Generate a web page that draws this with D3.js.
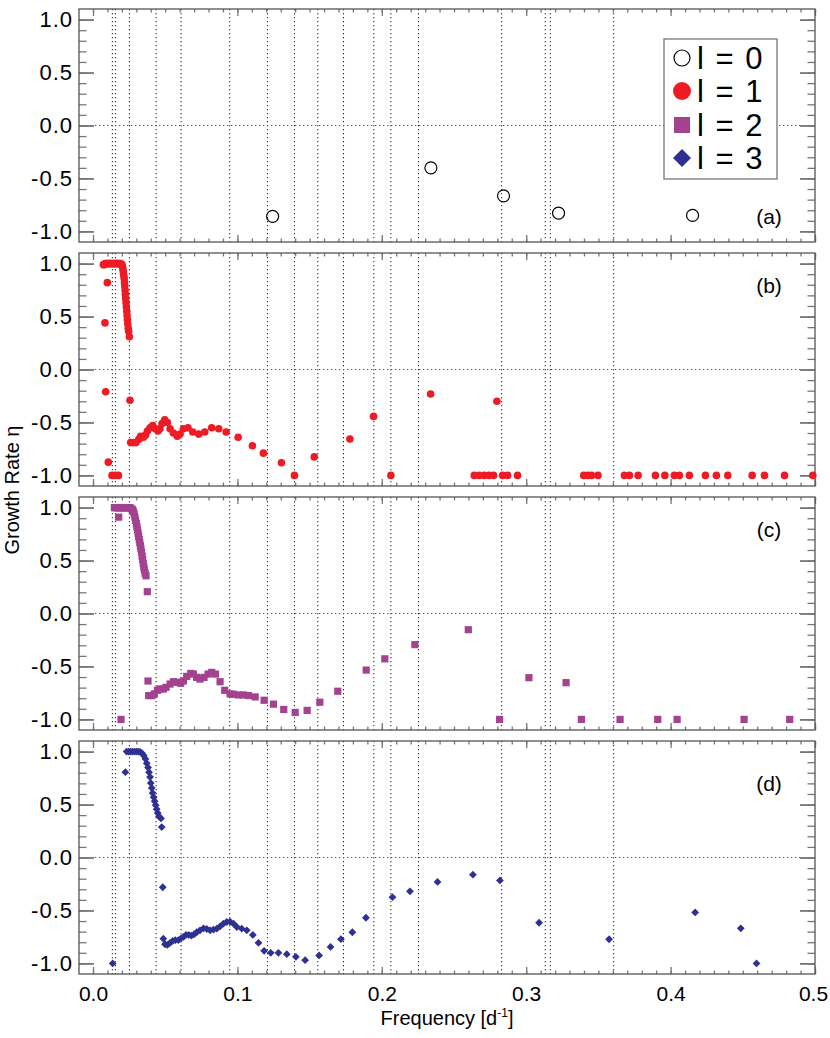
<!DOCTYPE html>
<html><head><meta charset="utf-8">
<script src="https://cdn.jsdelivr.net/npm/d3@7"></script>
<style>body{margin:0;background:#fff} svg{display:block} text{font-family:"Liberation Sans",Arial,Helvetica,sans-serif;}</style>
</head><body>
<svg id="c" width="830" height="1038"></svg>
<script>
// ---------- data ----------
const xTicks = [0, 0.1, 0.2, 0.3, 0.4, 0.5];
const xTickLabels = ["0.0", "0.1", "0.2", "0.3", "0.4", "0.5"];
const yTicks = [-1, -0.5, 0, 0.5, 1];
const yTickLabels = ["-1.0", "-0.5", "0.0", "0.5", "1.0"];
const panelLabels = ["(a)", "(b)", "(c)", "(d)"];
const legendLabels = ["l = 0", "l = 1", "l = 2", "l = 3"];
const xTitle = "Frequency [d";
const yTitle = "Growth Rate η";

// observed frequencies (vertical dotted lines)
const gridFreqs = [0.0134, 0.0155, 0.0252, 0.0437, 0.0610, 0.0947, 0.1208, 0.1395, 0.1557,
  0.1735, 0.1945, 0.2063, 0.2254, 0.2830, 0.3132, 0.3167, 0.3606];

// l = 0
const l0Points = [[0.1244, -0.858], [0.2340, -0.400], [0.2843, -0.664], [0.3224, -0.827], [0.4152, -0.849]];

// l = 1
const l1Points = [
  [0.0072, 0.99], [0.0078, 0.99], [0.0084, 1.0], [0.0090, 1.0], [0.0096, 1.0], [0.0102, 1.0], [0.0108, 1.0],
  [0.0114, 1.0], [0.0120, 1.0], [0.0126, 1.0], [0.0132, 1.0], [0.0138, 1.0], [0.0144, 1.0], [0.0150, 1.0],
  [0.0156, 1.0], [0.0162, 1.0], [0.0168, 1.0], [0.0174, 1.0], [0.0180, 1.0], [0.0186, 1.0], [0.0192, 1.0],
  [0.0197, 0.99], [0.0201, 0.99], [0.0204, 0.97], [0.0207, 0.95], [0.0210, 0.92], [0.0213, 0.89],
  [0.0216, 0.86], [0.0218, 0.82], [0.0220, 0.79], [0.0222, 0.75], [0.0224, 0.71], [0.0226, 0.67],
  [0.0229, 0.63], [0.0231, 0.59], [0.0234, 0.55], [0.0236, 0.51], [0.0238, 0.47], [0.0241, 0.43],
  [0.0244, 0.39], [0.0247, 0.36], [0.0252, 0.31],
  [0.0083, 0.44], [0.0099, 0.82], [0.0088, -0.21], [0.0106, -0.875], [0.0132, -1.0], [0.0155, -1.0],
  [0.0176, -1.0], [0.0256, -0.29],
  [0.0261, -0.69], [0.0279, -0.69], [0.0298, -0.69], [0.0317, -0.66], [0.0330, -0.63], [0.0349, -0.64],
  [0.0363, -0.62], [0.0377, -0.58], [0.0395, -0.55], [0.0413, -0.53], [0.0432, -0.56], [0.0450, -0.58],
  [0.0464, -0.56], [0.0478, -0.51], [0.0497, -0.475], [0.0515, -0.50], [0.0534, -0.56], [0.0557, -0.60],
  [0.0584, -0.63], [0.0603, -0.61], [0.0626, -0.56], [0.0658, -0.55], [0.0691, -0.59], [0.0732, -0.61],
  [0.0774, -0.59], [0.0822, -0.55], [0.0871, -0.56], [0.0922, -0.59], [0.1005, -0.64], [0.1104, -0.72],
  [0.1180, -0.79], [0.1305, -0.88], [0.1395, -1.0], [0.1532, -0.825], [0.1779, -0.656], [0.1943, -0.443],
  [0.2063, -1.0], [0.2338, -0.231],
  [0.2640, -1.0], [0.2675, -1.0], [0.2710, -1.0], [0.2742, -1.0], [0.2774, -1.0], [0.2797, -0.30],
  [0.2837, -1.0], [0.2871, -1.0], [0.2940, -1.0], [0.3398, -1.0], [0.3426, -1.0], [0.3453, -1.0],
  [0.3497, -1.0], [0.3680, -1.0], [0.3715, -1.0], [0.3775, -1.0], [0.3895, -1.0], [0.3960, -1.0],
  [0.4026, -1.0], [0.4061, -1.0], [0.4130, -1.0], [0.4241, -1.0], [0.4317, -1.0], [0.4396, -1.0],
  [0.4565, -1.0], [0.4650, -1.0], [0.4789, -1.0], [0.4985, -1.0]
];

// l = 2
const l2Points = [
  [0.0148, 1.0], [0.0154, 1.0], [0.0160, 1.0], [0.0166, 1.0], [0.0172, 1.0], [0.0178, 1.0], [0.0184, 1.0],
  [0.0190, 1.0], [0.0196, 1.0], [0.0202, 1.0], [0.0208, 1.0], [0.0214, 1.0], [0.0220, 1.0], [0.0226, 1.0],
  [0.0232, 1.0], [0.0238, 1.0], [0.0244, 1.0], [0.0250, 1.0], [0.0256, 1.0],
  [0.0265, 0.99], [0.0273, 0.98], [0.0279, 0.965], [0.0285, 0.94], [0.0290, 0.91], [0.0295, 0.88],
  [0.0300, 0.85], [0.0304, 0.82], [0.0308, 0.79], [0.0312, 0.76], [0.0316, 0.73], [0.0320, 0.70],
  [0.0324, 0.67], [0.0328, 0.64], [0.0332, 0.61], [0.0336, 0.58], [0.0340, 0.54], [0.0344, 0.51],
  [0.0348, 0.47], [0.0352, 0.44], [0.0356, 0.41], [0.0361, 0.38], [0.0367, 0.356],
  [0.0178, 0.91], [0.0194, -1.0], [0.0376, 0.206], [0.0381, -0.6375],
  [0.0386, -0.775], [0.0407, -0.775], [0.0425, -0.759], [0.0446, -0.725], [0.0464, -0.7125],
  [0.0487, -0.7125], [0.0506, -0.697], [0.0534, -0.666], [0.0557, -0.644], [0.0584, -0.65],
  [0.0607, -0.659], [0.0626, -0.6375], [0.0649, -0.594], [0.0677, -0.566], [0.0695, -0.572],
  [0.0718, -0.603], [0.0741, -0.619], [0.0769, -0.603], [0.0797, -0.572], [0.0822, -0.556],
  [0.0848, -0.572], [0.0880, -0.644], [0.0912, -0.725], [0.0949, -0.759], [0.0973, -0.7625],
  [0.1007, -0.769], [0.1042, -0.769], [0.1076, -0.775], [0.1123, -0.7875], [0.1185, -0.819],
  [0.1250, -0.856], [0.1321, -0.906], [0.1400, -0.934], [0.1483, -0.915], [0.1571, -0.8375],
  [0.1695, -0.734], [0.1892, -0.534], [0.2021, -0.428], [0.2229, -0.294], [0.2599, -0.153],
  [0.2816, -1.0], [0.3019, -0.606], [0.3276, -0.653], [0.3382, -1.0], [0.3650, -1.0], [0.3911, -1.0],
  [0.4045, -1.0], [0.4509, -1.0], [0.4825, -1.0]
];

// l = 3
const l3Points = [
  [0.0136, -1.0], [0.0224, 0.806],
  [0.0233, 1.0], [0.0247, 1.0], [0.0261, 1.0], [0.0275, 1.0], [0.0289, 1.0], [0.0303, 1.0], [0.0316, 1.0],
  [0.0328, 0.995], [0.0340, 0.984], [0.0351, 0.9625], [0.0363, 0.931], [0.0372, 0.89], [0.0381, 0.85],
  [0.0388, 0.806], [0.0395, 0.76], [0.0400, 0.703], [0.0407, 0.656], [0.0413, 0.609], [0.0420, 0.569],
  [0.0427, 0.531], [0.0434, 0.494], [0.0441, 0.456], [0.0448, 0.419], [0.0457, 0.3875], [0.0471, 0.369],
  [0.0476, 0.2875], [0.0483, -0.281], [0.0487, -0.766],
  [0.0499, -0.819], [0.0515, -0.825], [0.0534, -0.806], [0.0552, -0.7875], [0.0570, -0.781],
  [0.0591, -0.781], [0.0607, -0.766], [0.0626, -0.75], [0.0644, -0.731], [0.0663, -0.731],
  [0.0681, -0.7375], [0.0700, -0.725], [0.0718, -0.706], [0.0741, -0.6875], [0.0765, -0.669],
  [0.0788, -0.675], [0.0811, -0.6875], [0.0834, -0.681], [0.0857, -0.672], [0.0880, -0.65],
  [0.0903, -0.625], [0.0926, -0.609], [0.0949, -0.606], [0.0973, -0.625], [0.0996, -0.656],
  [0.1030, -0.672], [0.1065, -0.6875], [0.1107, -0.731], [0.1146, -0.806], [0.1185, -0.881],
  [0.1231, -0.90], [0.1284, -0.90], [0.1342, -0.913], [0.1405, -0.9375], [0.1469, -0.969],
  [0.1566, -0.925], [0.1645, -0.844], [0.1717, -0.771], [0.1796, -0.706], [0.1890, -0.569],
  [0.2074, -0.375], [0.2195, -0.319], [0.2386, -0.231], [0.2631, -0.1625], [0.2818, -0.216],
  [0.3089, -0.616], [0.3574, -0.772], [0.4170, -0.519], [0.4486, -0.669], [0.4595, -1.0]
];

// ---------- drawing ----------
const svg = d3.select("#c");
const left = 79, right = 815, ph = 233;
const tops = [9, 253, 497, 741];
const x = d3.scaleLinear().domain([-0.0097, 0.5]).range([left, right]);
const yMinor = d3.range(-10, 11).map(d => d / 10);
const xMinor = d3.range(0, 51).map(d => d / 100);
const frameColor = "#555", tickColor = "#777";

const colors = ["#000000", "#ED1C24", "#A3428F", "#2E3192"];
const diamondPath = r => `M0,${-r}L${r},0L0,${r}L${-r},0Z`;

function drawMarker(sel, kind, size) {
  if (kind === 0) {
    sel.append("circle").attr("r", size).attr("fill", "none").attr("stroke", "#000").attr("stroke-width", 1.2);
  } else if (kind === 1) {
    sel.append("circle").attr("r", size).attr("fill", colors[1]);
  } else if (kind === 2) {
    sel.append("rect").attr("x", -size).attr("y", -size).attr("width", 2 * size).attr("height", 2 * size).attr("fill", colors[2]);
  } else {
    sel.append("path").attr("d", diamondPath(size)).attr("fill", colors[3]);
  }
}

const allPoints = [l0Points, l1Points, l2Points, l3Points];
const markerSize = [6, 3.8, 3.6, 3.9];

tops.forEach((top, i) => {
  const y = d3.scaleLinear().domain([-1.1, 1.1]).range([top + ph, top]);
  const g = svg.append("g");

  // vertical dotted lines at observed frequencies
  g.selectAll("line.grid").data(gridFreqs).enter().append("line")
    .attr("x1", d => x(d)).attr("x2", d => x(d)).attr("y1", top).attr("y2", top + ph)
    .attr("stroke", "#222").attr("stroke-width", 1).attr("stroke-dasharray", "1.3,2.7");
  // zero line
  g.append("line").attr("x1", left).attr("x2", right).attr("y1", y(0)).attr("y2", y(0))
    .attr("stroke", "#555").attr("stroke-width", 1).attr("stroke-dasharray", "1.3,2.7");

  const addAxis = (axis, tx, ty) => {
    const a = g.append("g").attr("transform", `translate(${tx},${ty})`).call(axis);
    a.select(".domain").remove();
    a.selectAll("line").attr("stroke", tickColor).attr("stroke-width", 1.3);
    return a;
  };
  // minor ticks
  addAxis(d3.axisLeft(y).tickValues(yMinor).tickSize(-7.5).tickFormat(""), left, 0);
  addAxis(d3.axisRight(y).tickValues(yMinor).tickSize(-7.5).tickFormat(""), right, 0);
  addAxis(d3.axisBottom(x).tickValues(xMinor).tickSize(-3.5).tickFormat(""), 0, top + ph);
  addAxis(d3.axisTop(x).tickValues(xMinor).tickSize(-3.5).tickFormat(""), 0, top);
  // major ticks
  const yl = addAxis(d3.axisLeft(y).tickValues(yTicks).tickSize(-15).tickPadding(6)
    .tickFormat((d, k) => yTickLabels[k]), left, 0);
  yl.selectAll("line").attr("stroke-width", 1.8);
  yl.selectAll("text").attr("font-size", 22).attr("letter-spacing", 1).attr("fill", "#000")
    .attr("font-family", "Liberation Sans, Arial, sans-serif");
  addAxis(d3.axisRight(y).tickValues(yTicks).tickSize(-15).tickFormat(""), right, 0).selectAll("line").attr("stroke-width", 1.8);
  const xb = addAxis(d3.axisBottom(x).tickValues(xTicks).tickSize(-7).tickPadding(12)
    .tickFormat((d, k) => i === 3 ? xTickLabels[k] : ""), 0, top + ph);
  xb.selectAll("text").attr("font-size", 21).attr("fill", "#000")
    .attr("font-family", "Liberation Sans, Arial, sans-serif")
    .attr("dx", (d, k) => k === xTicks.length - 1 ? -2 : 0);
  addAxis(d3.axisTop(x).tickValues(xTicks).tickSize(-7).tickFormat(""), 0, top);

  // frame
  g.append("rect").attr("x", left).attr("y", top).attr("width", right - left).attr("height", ph)
    .attr("fill", "none").attr("stroke", frameColor).attr("stroke-width", 1.3);

  // points
  g.selectAll("g.pt").data(allPoints[i]).enter().append("g")
    .attr("transform", d => `translate(${x(d[0])},${y(d[1])})`)
    .each(function () { drawMarker(d3.select(this), i, markerSize[i]); });

  // panel label
  const labelY = i === 0 ? top + ph - 18 : (i === 3 ? top + 50 : top + 40);
  g.append("text").attr("x", 769).attr("y", labelY).attr("text-anchor", "middle")
    .attr("font-size", 21).text(panelLabels[i]);
});

// legend
const lg = svg.append("g").attr("transform", "translate(664,39)");
lg.append("rect").attr("width", 113).attr("height", 140).attr("fill", "#fff").attr("stroke", "#777").attr("stroke-width", 1.3);
const legendRows = [19, 52, 86, 119];
const legendSize = [8, 9, 8, 9];
legendLabels.forEach((lab, k) => {
  const row = lg.append("g").attr("transform", `translate(18,${legendRows[k]})`);
  drawMarker(row, k, legendSize[k]);
  lg.append("text").attr("x", 33).attr("y", legendRows[k] + 11).attr("font-size", 31)
    .attr("word-spacing", 3).text(lab);
});

// axis titles
const xt = svg.append("text").attr("x", 447).attr("y", 1025).attr("text-anchor", "middle").attr("font-size", 20);
xt.append("tspan").text(xTitle);
xt.append("tspan").attr("dy", -8).attr("font-size", 12).text("-1");
xt.append("tspan").attr("dy", 8).text("]");
svg.append("text").attr("transform", "translate(19,490) rotate(-90)").attr("text-anchor", "middle")
  .attr("font-size", 20).text(yTitle);
</script>
</body></html>
